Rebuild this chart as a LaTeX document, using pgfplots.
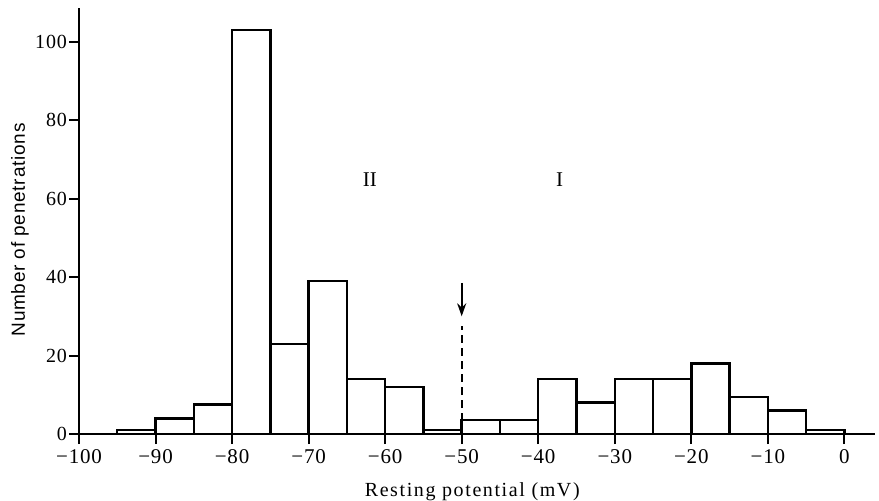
\documentclass[border=0pt]{standalone}
\usepackage{fontspec}
\setmainfont{Liberation Serif}
\newfontfamily\ylabfont[LetterSpace=4]{Liberation Sans}
\newfontfamily\xlabfont[LetterSpace=8]{Liberation Serif}
\newfontfamily\tickfont[LetterSpace=4]{Liberation Serif}
\usepackage{pgfplots}
\pgfplotsset{compat=1.18}
\usetikzlibrary{arrows.meta}
\begin{document}
\begin{tikzpicture}
\begin{axis}[
  scale only axis,
  width=796pt, height=426pt,
  xmin=-100, xmax=4, ymin=0, ymax=108.6,
  axis lines*=left,
  axis line style={line width=2pt, -},
  xtick={-100,-90,...,0},
  xticklabels={−100,−90,−80,−70,−60,−50,−40,−30,−20,−10,0},
  ytick={0,20,...,100},
  tick align=outside,
  major tick length=10pt,
  tick style={line width=2pt, black},
  /pgf/number format/assume math mode=true,
  xticklabel style={font=\fontsize{21}{24}\selectfont\tickfont, inner sep=1pt, yshift=-4pt},
  yticklabel style={font=\fontsize{20}{24}\selectfont\tickfont, inner sep=1pt, xshift=-1pt},
  xlabel={Resting potential (mV)},
  ylabel={Number of penetrations},
  xlabel style={font=\fontsize{20}{24}\selectfont\xlabfont, at={(axis description cs:0.494,-0.136)}, anchor=center},
  ylabel style={font=\fontsize{19}{23}\selectfont\ylabfont, at={(axis description cs:-0.0741,0.479)}, anchor=center},
  clip=false,
]
\addplot[ybar interval, fill=white, draw=black, line width=2.4pt] table {
x y
-100 0
-95 1
-90 4
-85 7.5
-80 103
-75 23
-70 39
-65 14
-60 12
-55 1
-50 3.5
-45 3.5
-40 14
-35 8
-30 14
-25 14
-20 18
-15 9.5
-10 6
-5 1
0 1
};
\addplot[black, line width=2pt, dash pattern=on 8pt off 5pt] coordinates {(-50,0) (-50,27.5)};
\draw[black, line width=2pt, -{Stealth[length=13pt,width=9pt]}] (axis cs:-50,38.5) -- (axis cs:-50,30);
\node[font=\fontsize{21}{24}\selectfont] at (axis cs:-62,64.8) {II};
\node[font=\fontsize{21}{24}\selectfont] at (axis cs:-37.2,64.8) {I};
\end{axis}
\pgfresetboundingbox
\useasboundingbox (-79pt,-67pt) rectangle (800pt,434pt);
\end{tikzpicture}
\end{document}
